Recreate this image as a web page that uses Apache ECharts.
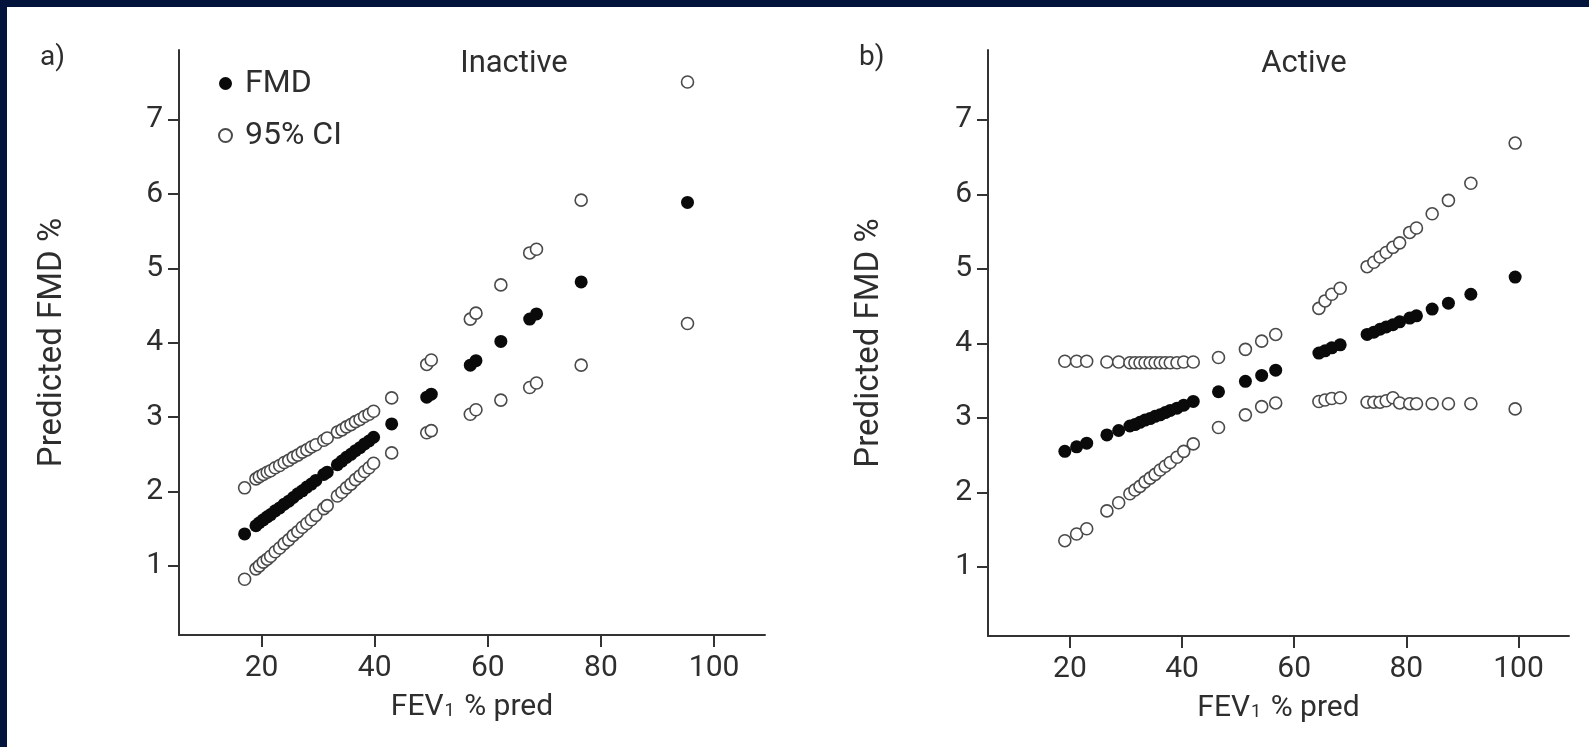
<!DOCTYPE html>
<html>
<head>
<meta charset="utf-8">
<script src="https://cdn.jsdelivr.net/npm/echarts@6/dist/echarts.min.js"></script>
<style>
  html, body { margin: 0; padding: 0; background: #fff; }
  #chart { width: 1589px; height: 747px; }
</style>
</head>
<body>
<div id="chart"></div>
<script>
// a) inactive patients: FEV1 % pred and predicted FMD % with its 95% CI
var inactiveFev = [17.0, 19.0, 19.6, 20.3, 21.0, 21.6, 22.4, 23.2, 24.0, 24.8, 25.6, 26.4, 27.2, 28.0, 28.8, 29.6, 31.0, 31.6, 33.4, 34.2, 35.0, 35.8, 36.6, 37.4, 38.2, 39.0, 39.8, 43.0, 49.2, 50.0, 56.9, 57.9, 62.3, 67.4, 68.6, 76.5, 95.3];
var inactiveFmd = [1.43, 1.54, 1.58, 1.62, 1.66, 1.69, 1.74, 1.78, 1.83, 1.87, 1.92, 1.97, 2.01, 2.06, 2.10, 2.15, 2.23, 2.26, 2.36, 2.41, 2.46, 2.50, 2.55, 2.59, 2.64, 2.68, 2.73, 2.91, 3.27, 3.31, 3.70, 3.76, 4.02, 4.32, 4.39, 4.82, 5.89];
var inactiveUpper = [2.05, 2.17, 2.20, 2.23, 2.26, 2.28, 2.32, 2.35, 2.39, 2.42, 2.46, 2.49, 2.53, 2.56, 2.60, 2.63, 2.69, 2.72, 2.80, 2.83, 2.87, 2.90, 2.94, 2.97, 3.01, 3.04, 3.08, 3.26, 3.71, 3.77, 4.32, 4.40, 4.78, 5.21, 5.26, 5.92, 7.51];
var inactiveLower = [0.82, 0.96, 1.00, 1.05, 1.09, 1.13, 1.19, 1.24, 1.30, 1.35, 1.41, 1.46, 1.52, 1.57, 1.62, 1.68, 1.77, 1.81, 1.94, 1.99, 2.05, 2.10, 2.16, 2.21, 2.27, 2.32, 2.38, 2.52, 2.79, 2.82, 3.04, 3.10, 3.23, 3.40, 3.46, 3.70, 4.26];

// b) active patients
var activeFev = [19.1, 21.2, 23.0, 26.6, 28.7, 30.7, 31.6, 32.5, 33.4, 34.3, 35.2, 36.1, 37.0, 37.9, 39.1, 40.3, 42.0, 46.5, 51.3, 54.2, 56.7, 64.4, 65.5, 66.7, 68.2, 73.0, 74.2, 75.3, 76.4, 77.6, 78.8, 80.6, 81.8, 84.6, 87.5, 91.5, 99.4];
var activeFmd = [2.55, 2.61, 2.66, 2.77, 2.83, 2.89, 2.91, 2.94, 2.97, 2.99, 3.02, 3.04, 3.07, 3.10, 3.13, 3.17, 3.22, 3.35, 3.49, 3.57, 3.64, 3.87, 3.90, 3.94, 3.98, 4.12, 4.15, 4.19, 4.22, 4.25, 4.29, 4.34, 4.37, 4.46, 4.54, 4.66, 4.89];
var activeUpper = [3.76, 3.76, 3.76, 3.75, 3.75, 3.74, 3.74, 3.74, 3.74, 3.74, 3.74, 3.74, 3.74, 3.74, 3.74, 3.75, 3.75, 3.81, 3.92, 4.03, 4.12, 4.47, 4.57, 4.66, 4.74, 5.03, 5.09, 5.16, 5.22, 5.29, 5.35, 5.49, 5.55, 5.74, 5.92, 6.15, 6.69];
var activeLower = [1.35, 1.44, 1.51, 1.75, 1.86, 1.98, 2.03, 2.08, 2.14, 2.19, 2.24, 2.30, 2.35, 2.40, 2.47, 2.55, 2.65, 2.87, 3.04, 3.15, 3.20, 3.22, 3.24, 3.26, 3.27, 3.21, 3.21, 3.21, 3.23, 3.27, 3.20, 3.19, 3.19, 3.19, 3.19, 3.19, 3.12];

var xTicks = [20, 40, 60, 80, 100];
var yTicks = [1, 2, 3, 4, 5, 6, 7];

var FONT = 'Roboto, "Liberation Sans", sans-serif';
var INK = '#2e2e2e';

function pairs(xs, ys) {
  return xs.map(function (x, i) { return [x, ys[i]]; });
}

function xAxisFor(grid) {
  return {
    gridIndex: grid, type: 'value', min: 5.4, max: 109,
    axisLine: { show: true, onZero: false, lineStyle: { color: '#333', width: 2 } },
    axisTick: { show: true, customValues: xTicks, length: 12, lineStyle: { color: '#333', width: 2 } },
    axisLabel: { customValues: xTicks, margin: 18, fontSize: 30, color: INK, fontFamily: FONT },
    splitLine: { show: false },
    name: '{n|FEV}{s|1}{n| % pred}',
    nameLocation: 'middle',
    nameGap: 57,
    nameTextStyle: {
      rich: {
        n: { fontSize: 30, color: INK, fontFamily: FONT },
        s: { fontSize: 18, color: INK, fontFamily: FONT, verticalAlign: 'bottom', padding: [0, 2, 2, 1] }
      }
    }
  };
}

function yAxisFor(grid, gap) {
  return {
    gridIndex: grid, type: 'value', min: 0.07, max: 7.94,
    axisLine: { show: true, onZero: false, lineStyle: { color: '#333', width: 2 } },
    axisTick: { show: true, customValues: yTicks, length: 11, lineStyle: { color: '#333', width: 2 } },
    axisLabel: { customValues: yTicks, margin: 16, fontSize: 30, color: INK, fontFamily: FONT },
    splitLine: { show: false },
    name: 'Predicted FMD %',
    nameLocation: 'middle',
    nameGap: gap,
    nameTextStyle: { fontSize: 33, color: INK, fontFamily: FONT }
  };
}

var openStyle = { color: '#fff', borderColor: '#4a4a4a', borderWidth: 1.6, opacity: 1 };
var fillStyle = { color: '#0a0a0a', opacity: 1 };

function panelSeries(idx, fev, fmd, upper, lower) {
  return [
    { name: '95% CI', type: 'scatter', xAxisIndex: idx, yAxisIndex: idx, symbol: 'circle', symbolSize: 12, itemStyle: openStyle, data: pairs(fev, upper) },
    { name: '95% CI', type: 'scatter', xAxisIndex: idx, yAxisIndex: idx, symbol: 'circle', symbolSize: 12, itemStyle: openStyle, data: pairs(fev, lower) },
    { name: 'FMD', type: 'scatter', xAxisIndex: idx, yAxisIndex: idx, symbol: 'circle', symbolSize: 13, itemStyle: fillStyle, data: pairs(fev, fmd) }
  ];
}

var chart = echarts.init(document.getElementById('chart'), null, { renderer: 'canvas' });

chart.setOption({
  animation: false,
  backgroundColor: '#fff',
  grid: [
    { left: 179, top: 50, width: 586, height: 585 },
    { left: 988, top: 50, width: 581, height: 586 }
  ],
  xAxis: [xAxisFor(0), xAxisFor(1)],
  yAxis: [yAxisFor(0, 110), yAxisFor(1, 102)],
  legend: {
    data: ['FMD', '95% CI'],
    orient: 'vertical',
    left: 213, top: 60,
    icon: 'circle',
    itemWidth: 13, itemHeight: 13,
    itemGap: 15,
    textStyle: { fontSize: 32, lineHeight: 37, color: INK, fontFamily: FONT, padding: [0, 0, 0, 8] }
  },
  graphic: [
    { type: 'rect', shape: { x: 0, y: 0, width: 1589, height: 7 }, style: { fill: '#02143c' }, silent: true },
    { type: 'rect', shape: { x: 0, y: 0, width: 7, height: 747 }, style: { fill: '#02143c' }, silent: true },
    { type: 'text', x: 40, y: 58, style: { text: 'a)', font: '28px ' + FONT, fill: INK, textVerticalAlign: 'middle' } },
    { type: 'text', x: 859, y: 58, style: { text: 'b)', font: '28px ' + FONT, fill: INK, textVerticalAlign: 'middle' } },
    { type: 'text', x: 514, y: 64, style: { text: 'Inactive', font: '31px ' + FONT, fill: INK, textAlign: 'center', textVerticalAlign: 'middle' } },
    { type: 'text', x: 1304, y: 64, style: { text: 'Active', font: '31px ' + FONT, fill: INK, textAlign: 'center', textVerticalAlign: 'middle' } }
  ],
  series: panelSeries(0, inactiveFev, inactiveFmd, inactiveUpper, inactiveLower)
    .concat(panelSeries(1, activeFev, activeFmd, activeUpper, activeLower))
});
</script>
</body>
</html>
